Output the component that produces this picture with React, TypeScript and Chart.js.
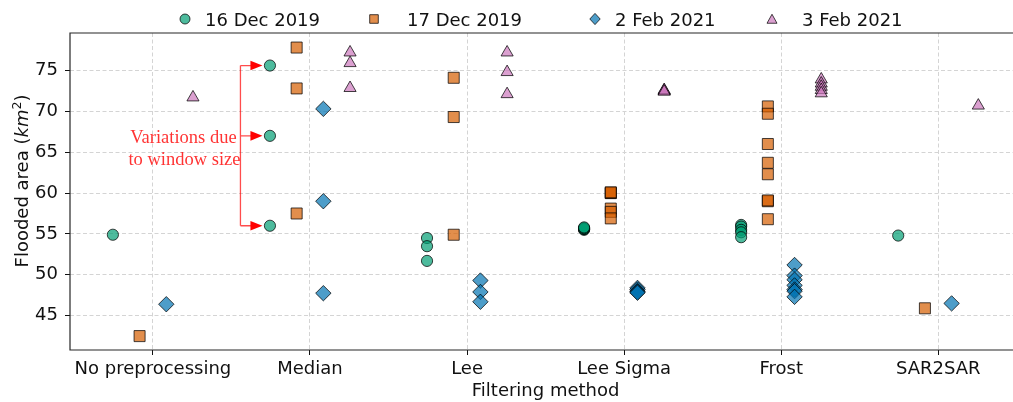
import React, { useEffect, useRef } from "react";
import { Chart, registerables } from "chart.js";

Chart.register(...registerables);

// ---------- data ----------
const categories = ["No preprocessing", "Median", "Lee", "Lee Sigma", "Frost", "SAR2SAR"];
const seriesLabels = ["16 Dec 2019", "17 Dec 2019", "2 Feb 2021", "3 Feb 2021"];

// one inner list per category (several window sizes / parameters)
const dec16_2019 = [
  [54.9],
  [75.6, 67.0, 56.0],
  [54.5, 53.5, 51.7],
  [55.5, 55.6, 55.6, 55.7, 55.8],
  [56.1, 55.9, 55.5, 55.2, 54.6],
  [54.8],
];
const dec17_2019 = [
  [42.5],
  [77.8, 72.8, 57.5],
  [74.1, 69.3, 54.9],
  [60.0, 60.0, 60.1, 58.1, 57.7, 56.9],
  [70.6, 69.7, 66.0, 63.7, 62.3, 59.0, 59.1, 56.8],
  [45.9],
];
const feb2_2021 = [
  [46.4],
  [70.3, 59.0, 47.75],
  [49.3, 47.9, 46.7],
  [48.4, 48.2, 48.0, 47.9, 47.8],
  [51.2, 49.9, 49.4, 48.7, 48.2, 48.0, 47.3],
  [46.5],
];
const feb3_2021 = [
  [71.7],
  [77.2, 75.9, 72.85],
  [77.2, 74.8, 72.1],
  [72.5, 72.5, 72.6, 72.4],
  [73.9, 73.4, 73.0, 72.6, 72.2],
  [70.7],
];
const yTickValues = [45, 50, 55, 60, 65, 70, 75];
const annotationText = ["Variations due", "to window size"];

// ---------- styles / layout ----------
const FONT = "DejaVu Sans";
const seriesValues = [dec16_2019, dec17_2019, feb2_2021, feb3_2021];
const seriesOffsets = [-0.255, -0.085, 0.085, 0.255];
const seriesStyles = [
  { shape: "circle", radius: 5.6, fill: "rgba(2,158,115,0.7)" },
  { shape: "rect", radius: 7.8, fill: "rgba(213,94,0,0.7)" },
  { shape: "rectRot", radius: 7.7, fill: "rgba(1,115,178,0.7)" },
  { shape: "triangle", radius: 7.0, fill: "rgba(204,120,188,0.7)" },
];
const edgeColor = "rgba(0,0,0,0.72)";
const gridColor = "#d4d4d4";
const legendMarkerX = [185, 374, 595, 772];
const legendTextX = [205, 407, 615, 802];
const legendY = 19;
const legendSizes = [5, 4.3, 5.2, 5];

function drawMarker(ctx: CanvasRenderingContext2D, shape: string, x: number, y: number, r: number, fill: string) {
  ctx.beginPath();
  if (shape === "circle") {
    ctx.arc(x, y, r, 0, Math.PI * 2);
  } else if (shape === "rect") {
    ctx.rect(x - r, y - r, 2 * r, 2 * r);
  } else if (shape === "rectRot") {
    ctx.moveTo(x, y - r * 1.08);
    ctx.lineTo(x + r, y);
    ctx.lineTo(x, y + r * 1.08);
    ctx.lineTo(x - r, y);
    ctx.closePath();
  } else {
    ctx.moveTo(x, y - r * 0.95);
    ctx.lineTo(x + r, y + r * 0.85);
    ctx.lineTo(x - r, y + r * 0.85);
    ctx.closePath();
  }
  ctx.fillStyle = fill;
  ctx.fill();
  ctx.strokeStyle = edgeColor;
  ctx.lineWidth = 1;
  ctx.stroke();
}

const extrasPlugin = {
  id: "extras",
  afterDraw(chart: any) {
    const { ctx, chartArea: a, scales } = chart;
    const xs = scales.x;
    const ys = scales.y;
    ctx.save();

    // frame (right spine lies outside the visible picture)
    ctx.strokeStyle = "#262626";
    ctx.lineWidth = 1.2;
    ctx.beginPath();
    ctx.moveTo(a.right, a.top);
    ctx.lineTo(a.left, a.top);
    ctx.lineTo(a.left, a.bottom);
    ctx.lineTo(a.right, a.bottom);
    ctx.stroke();

    // y-axis title with math italic
    ctx.save();
    ctx.translate(28, 181);
    ctx.rotate(-Math.PI / 2);
    const parts: any[] = [
      { t: "Flooded area (", f: `18px "${FONT}"`, dy: 0 },
      { t: "km", f: `italic 18px "${FONT}"`, dy: 0 },
      { t: "2", f: `12.6px "${FONT}"`, dy: -7.5 },
      { t: ")", f: `18px "${FONT}"`, dy: 0 },
    ];
    let total = 0;
    parts.forEach((p) => {
      ctx.font = p.f;
      p.w = ctx.measureText(p.t).width;
      total += p.w;
    });
    let px = -total / 2;
    ctx.fillStyle = "#111";
    ctx.textAlign = "left";
    ctx.textBaseline = "alphabetic";
    parts.forEach((p) => {
      ctx.font = p.f;
      ctx.fillText(p.t, px, p.dy);
      px += p.w;
    });
    ctx.restore();

    // legend
    ctx.font = `18px "${FONT}"`;
    ctx.textAlign = "left";
    ctx.textBaseline = "alphabetic";
    seriesLabels.forEach((lab, i) => {
      const st = seriesStyles[i];
      drawMarker(ctx, st.shape, legendMarkerX[i], legendY, legendSizes[i], st.fill);
      ctx.fillStyle = "#111";
      ctx.fillText(lab, legendTextX[i], legendY + 6.5);
    });

    // annotation: bracket with arrows to the Median points of 16 Dec 2019
    const cx = xs.getPixelForValue(1 + seriesOffsets[0]);
    const pys = dec16_2019[1].map((v) => ys.getPixelForValue(v));
    const tipX = cx - 7.5;
    const lineX = cx - 29.5;
    const headLen = 12;
    const headHalf = 4.8;
    ctx.strokeStyle = "rgba(255,0,0,0.7)";
    ctx.lineWidth = 1.3;
    ctx.beginPath();
    ctx.moveTo(lineX, Math.min(...pys));
    ctx.lineTo(lineX, Math.max(...pys));
    pys.forEach((py) => {
      ctx.moveTo(lineX, py);
      ctx.lineTo(tipX - headLen + 1, py);
    });
    ctx.stroke();
    ctx.fillStyle = "#ff0000";
    pys.forEach((py) => {
      ctx.beginPath();
      ctx.moveTo(tipX, py);
      ctx.lineTo(tipX - headLen, py - headHalf);
      ctx.lineTo(tipX - headLen, py + headHalf);
      ctx.closePath();
      ctx.fill();
    });
    ctx.font = `18.5px "Liberation Serif"`;
    ctx.fillStyle = "rgba(255,0,0,0.8)";
    ctx.textAlign = "center";
    ctx.fillText(annotationText[0], lineX - 57, pys[1] + 6.7);
    ctx.fillText(annotationText[1], lineX - 56, pys[1] + 29);

    ctx.restore();
  },
};

export default function App() {
  const ref = useRef<HTMLCanvasElement | null>(null);

  useEffect(() => {
    if (!ref.current) return;
    Chart.defaults.font.family = FONT;

    const datasets = seriesValues.map((vals, s) => ({
      label: seriesLabels[s],
      data: vals.flatMap((arr, ci) => arr.map((v) => ({ x: ci + seriesOffsets[s], y: v }))),
      pointStyle: seriesStyles[s].shape,
      pointRadius: seriesStyles[s].radius,
      pointHoverRadius: seriesStyles[s].radius,
      backgroundColor: seriesStyles[s].fill,
      borderColor: edgeColor,
      borderWidth: 1,
      showLine: false,
    }));

    const chart = new Chart(ref.current, {
      type: "scatter",
      data: { datasets },
      options: {
        animation: false,
        responsive: false,
        devicePixelRatio: 1,
        layout: { padding: { top: 33, right: 0, left: 0, bottom: 0 } },
        plugins: {
          legend: { display: false },
          tooltip: { enabled: false },
        },
        scales: {
          x: {
            type: "linear",
            min: -0.528,
            max: 5.528,
            afterBuildTicks: (s: any) => {
              s.ticks = categories.map((_, i) => ({ value: i }));
            },
            afterFit: (s: any) => {
              s.height = 52;
            },
            ticks: {
              callback: (v: any) => categories[Math.round(v)] ?? "",
              font: { family: FONT, size: 18 },
              color: "#111",
              padding: 4,
              maxRotation: 0,
              autoSkip: false,
            },
            grid: {
              color: gridColor,
              lineWidth: 1,
              tickLength: 5,
              tickColor: "#111",
              tickWidth: 1,
              tickBorderDash: [],
            },
            border: { display: false, dash: [4, 2.5] },
            title: {
              display: true,
              text: "Filtering method",
              font: { family: FONT, size: 18 },
              color: "#111",
              padding: { top: 0, bottom: 0 },
            },
          },
          y: {
            type: "linear",
            min: 40.8,
            max: 79.58,
            afterBuildTicks: (s: any) => {
              s.ticks = yTickValues.map((v) => ({ value: v }));
            },
            afterFit: (s: any) => {
              s.width = 70;
            },
            ticks: {
              font: { family: FONT, size: 18 },
              color: "#111",
              padding: 7,
            },
            grid: {
              color: gridColor,
              lineWidth: 1,
              tickLength: 5,
              tickColor: "#111",
              tickWidth: 1,
              tickBorderDash: [],
            },
            border: { display: false, dash: [4, 2.5] },
          },
        },
      },
      plugins: [extrasPlugin],
    } as any);

    return () => chart.destroy();
  }, []);

  return (
    <div
      style={{
        position: "fixed",
        left: 0,
        top: 0,
        width: 1013,
        height: 402,
        overflow: "hidden",
        background: "#fff",
      }}
    >
      <canvas ref={ref} width={1030} height={402} style={{ display: "block" }} />
    </div>
  );
}
